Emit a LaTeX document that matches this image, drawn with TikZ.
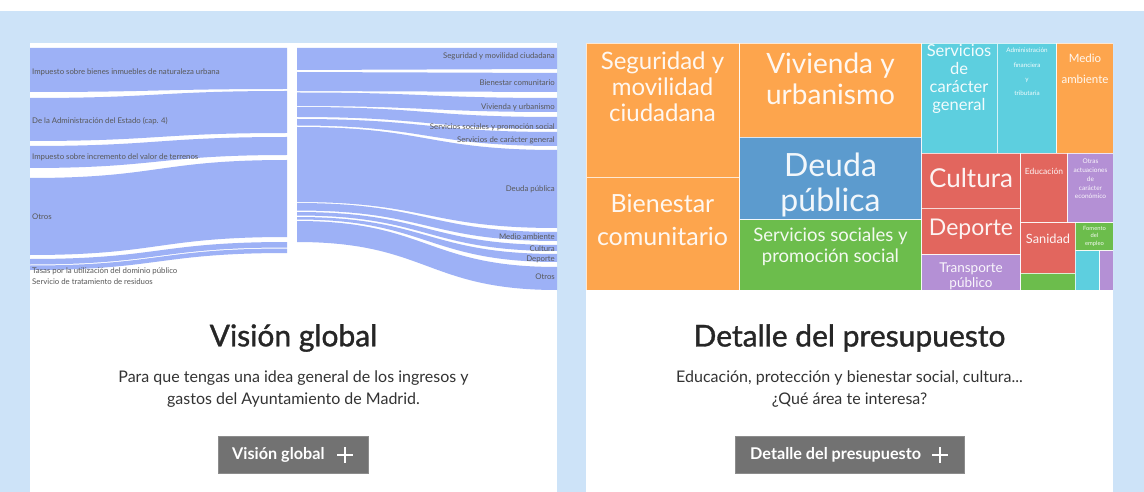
\documentclass[tikz,border=0pt]{standalone}
\usepackage{fontspec}
\setmainfont{Lato}
\definecolor{bgblue}{HTML}{CDE3F8}
\definecolor{sankey}{HTML}{9DB1F6}
\definecolor{sklabel}{HTML}{585858}
\definecolor{torange}{HTML}{FDA54D}
\definecolor{tblue}{HTML}{5C9BCE}
\definecolor{tgreen}{HTML}{6CBD4C}
\definecolor{tcyan}{HTML}{5DCFDF}
\definecolor{tred}{HTML}{E2665E}
\definecolor{tpurple}{HTML}{B490D5}
\definecolor{btn}{HTML}{727272}
\definecolor{bodytext}{HTML}{333333}
\newcommand\sankeyband[6]{%
  \fill[sankey] (#1,#3) .. controls ({(#1+#2)/2},#3) and ({(#1+#2)/2},#5) .. (#2,#5)
    -- (#2,#6) .. controls ({(#1+#2)/2},#6) and ({(#1+#2)/2},#4) .. (#1,#4) -- cycle;}
\tikzset{
  tile/.style={draw=white, draw opacity=0.75, line width=0.9pt},
  tiletext/.style={text=white, text opacity=0.92, align=center, inner sep=0pt},
  skl/.style={text=sklabel, inner sep=0pt, font=\fontsize{7.8}{8}\selectfont},
  title/.style={text=black!85, inner sep=0pt, font=\fontsize{30}{34}\selectfont\addfontfeatures{FakeBold=1.2}},
  body/.style={text=bodytext, inner sep=0pt, align=center, font=\fontsize{16}{22}\selectfont},
  btnbox/.style={fill=btn, draw=black!45, line width=0.5pt},
  btntext/.style={text=white, inner sep=0pt, font=\bfseries\fontsize{16.2}{18}\selectfont},
  plus/.style={draw=white, line width=1.1pt}
}
\begin{document}
\begin{tikzpicture}[x=1pt,y=-1pt]
\useasboundingbox (0,0) rectangle (1144,492);
% background
\fill[white] (0,0) rectangle (1144,11);
\fill[bgblue] (0,11) rectangle (1144,492);
\fill[white] (30,43) rectangle (557,492);
\fill[white] (586,43) rectangle (1113,492);

% ---------- Sankey, left half ----------
\sankeyband{30}{287}{48}{92}{48}{89}
\sankeyband{30}{287}{98}{141}{91}{133}
\sankeyband{30}{287}{146}{168}{137}{155}
\sankeyband{30}{287}{178}{255}{160}{237}
\sankeyband{30}{287}{259}{264.5}{242}{247.5}
\sankeyband{30}{287}{265.5}{270}{248.5}{253}
% ---------- Sankey, right half ----------
\sankeyband{297}{557}{48}{70}{48}{69}
\sankeyband{297}{557}{72}{91}{73}{92}
\sankeyband{297}{557}{92.5}{106}{98}{112}
\sankeyband{297}{557}{107}{117}{117}{129}
\sankeyband{297}{557}{119}{125.5}{132}{146}
\sankeyband{297}{557}{127}{202}{150}{228}
\sankeyband{297}{557}{203}{210.5}{232}{241}
\sankeyband{297}{557}{212}{215.5}{245}{251}
\sankeyband{297}{557}{217}{219.5}{254}{262}
\sankeyband{297}{557}{221}{242}{267}{290}

% sankey labels
\node[skl,anchor=west] (i1) at (32,72) {Impuesto sobre bienes inmuebles de naturaleza urbana};
\node[skl,anchor=west] (i2) at (32,121) {De la Administración del Estado (cap. 4)};
\node[skl,anchor=west] (i3) at (32,157) {Impuesto sobre incremento del valor de terrenos};
\node[skl,anchor=west] (i4) at (32,217) {Otros};
\node[skl,anchor=west] (i5) at (32,271) {Tasas por la utilización del dominio público};
\node[skl,anchor=west] (i6) at (32,282) {Servicio de tratamiento de residuos};

\node[skl,anchor=east] (g1) at (555,56) {Seguridad y movilidad ciudadana};
\node[skl,anchor=east] (g2) at (555,83) {Bienestar comunitario};
\node[skl,anchor=east] (g3) at (555,107) {Vivienda y urbanismo};
\node[skl,anchor=east] (g4) at (555,127) {Servicios sociales y promoción social};
\node[skl,anchor=east] (g5) at (555,140) {Servicios de carácter general};
\node[skl,anchor=east] (g6) at (555,189) {Deuda pública};
\node[skl,anchor=east] (g7) at (555,237) {Medio ambiente};
\node[skl,anchor=east] (g8) at (555,249) {Cultura};
\node[skl,anchor=east] (g9) at (555,259) {Deporte};
\node[skl,anchor=east] (g10) at (555,277) {Otros};

% ---------- Treemap ----------
\begin{scope}
\clip (586,43) rectangle (1113,290);
\fill[torange,tile] (586,43) rectangle (739.5,177);
\fill[torange,tile] (586,177) rectangle (739.5,290);
\fill[torange,tile] (739.5,43) rectangle (921.5,137.5);
\fill[tblue,tile] (739.5,137.5) rectangle (921.5,219.5);
\fill[tgreen,tile] (739.5,219.5) rectangle (921.5,290);
\fill[tcyan,tile] (921.5,43) rectangle (997,153);
\fill[tcyan,tile] (997,43) rectangle (1056.5,153);
\fill[torange,tile] (1056.5,43) rectangle (1113,153);
\fill[tred,tile] (921.5,153) rectangle (1020.5,208.5);
\fill[tred,tile] (921.5,208.5) rectangle (1020.5,254.5);
\fill[tpurple,tile] (921.5,254.5) rectangle (1020.5,290);
\fill[tred,tile] (1020.5,153) rectangle (1067.5,222.5);
\fill[tpurple,tile] (1067.5,153) rectangle (1113,222.5);
\fill[tred,tile] (1020.5,222.5) rectangle (1075,273);
\fill[tgreen,tile] (1020.5,273) rectangle (1075,290);
\fill[tgreen,tile] (1075,222.5) rectangle (1113,250.5);
\fill[tcyan,tile] (1075,250.5) rectangle (1099.5,290);
\fill[tpurple,tile] (1099.5,250.5) rectangle (1113,290);

\node[tiletext,font=\fontsize{24}{26}\selectfont] (t1) at (662.5,87) {Seguridad y\\movilidad\\ciudadana};
\node[tiletext,font=\fontsize{25}{33}\selectfont] (t2) at (662.5,220) {Bienestar\\comunitario};
\node[tiletext,font=\fontsize{28}{31}\selectfont] (t3) at (830.5,79) {Vivienda y\\urbanismo};
\node[tiletext,font=\fontsize{32}{35}\selectfont] (t4) at (830.5,185) {Deuda\\pública};
\node[tiletext,font=\fontsize{18.5}{21}\selectfont] (t5) at (830.5,247) {Servicios sociales y\\promoción social};
\node[tiletext,font=\fontsize{16.5}{17.7}\selectfont] (t6) at (959,79) {Servicios\\de\\carácter\\general};
\node[tiletext,font=\fontsize{6.3}{14.3}\selectfont] (t7) at (1027,72) {Administración\\financiera\\y\\tributaria};
\node[tiletext,font=\fontsize{11.5}{21}\selectfont] (t8) at (1085,69) {Medio\\ambiente};
\node[tiletext,font=\fontsize{26}{30}\selectfont] (t9) at (971,178) {Cultura};
\node[tiletext,font=\fontsize{23}{26}\selectfont] (t10) at (971,229) {Deporte};
\node[tiletext,font=\fontsize{13.5}{15}\selectfont] (t11) at (971,276) {Transporte\\público};
\node[tiletext,font=\fontsize{8.5}{10}\selectfont] (t12) at (1044,171) {Educación};
\node[tiletext,font=\fontsize{6.5}{8.7}\selectfont] (t13) at (1090.5,179) {Otras\\actuaciones\\de\\carácter\\económico};
\node[tiletext,font=\fontsize{12.8}{15}\selectfont] (t14) at (1048,239) {Sanidad};
\node[tiletext,font=\fontsize{5.8}{7.5}\selectfont] (t15) at (1094.5,236) {Fomento\\del\\empleo};
\end{scope}

% ---------- Card texts ----------
\node[title] (h1) at (293.5,338) {Visión global};
\node[title] (h2) at (849.5,338) {Detalle del presupuesto};
\node[body] (p1) at (293.5,389) {Para que tengas una idea general de los ingresos y\\gastos del Ayuntamiento de Madrid.};
\node[body] (p2) at (849.5,389) {Educación, protección y bienestar social, cultura...\\¿Qué área te interesa?};

% buttons
\fill[btnbox] (218,436) rectangle (368,473);
\node[btntext,anchor=west] (b1) at (232,455) {Visión global};
\draw[plus] (337,455) -- (353,455) (345,447) -- (345,463);
\fill[btnbox] (735,436) rectangle (964,473);
\node[btntext,anchor=west] (b2) at (750,455) {Detalle del presupuesto};
\draw[plus] (932,455) -- (948,455) (940,447) -- (940,463);
\end{tikzpicture}
\end{document}
